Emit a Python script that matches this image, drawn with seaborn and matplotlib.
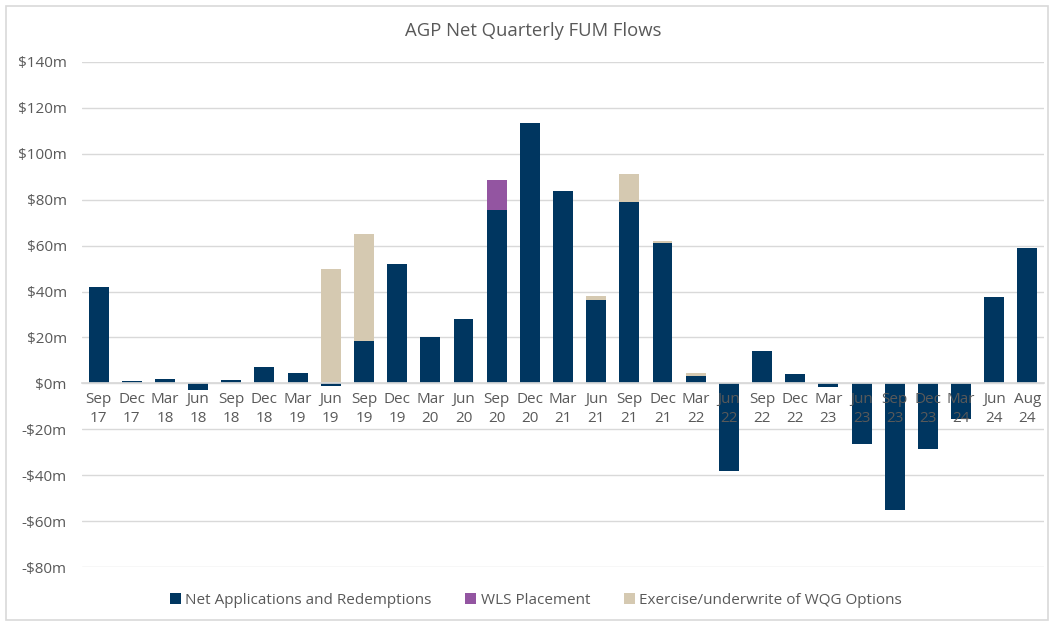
import numpy as np
import pandas as pd
import matplotlib
matplotlib.use("Agg")
import matplotlib.pyplot as plt
from matplotlib.ticker import FuncFormatter, MultipleLocator
from matplotlib.patches import Rectangle
import seaborn as sns

quarters = ["Sep\n17", "Dec\n17", "Mar\n18", "Jun\n18", "Sep\n18", "Dec\n18", "Mar\n19",
            "Jun\n19", "Sep\n19", "Dec\n19", "Mar\n20", "Jun\n20", "Sep\n20", "Dec\n20",
            "Mar\n21", "Jun\n21", "Sep\n21", "Dec\n21", "Mar\n22", "Jun\n22", "Sep\n22",
            "Dec\n22", "Mar\n23", "Jun\n23", "Sep\n23", "Dec\n23", "Mar\n24", "Jun\n24",
            "Aug\n24"]
net_flows = [42, 1, 2, -3, 1.5, 7, 4.5, -1, 18.5, 52, 20, 28, 75.5, 113.5,
             84, 36.5, 79, 61, 3, -38, 14, 4, -1.5, -26.5, -55, -28.5, -15.5, 37.5, 59]
wls_placement = [0, 0, 0, 0, 0, 0, 0, 0, 0, 0, 0, 0, 13, 0,
                 0, 0, 0, 0, 0, 0, 0, 0, 0, 0, 0, 0, 0, 0, 0]
wqg_options = [0, 0, 0, 0, 0, 0, 0, 50, 46.5, 0, 0, 0, 0, 0,
               0, 1.5, 12, 1, 1.5, 0, 0, 0, 0, 0, 0, 0, 0, 0, 0]

NAVY = "#003660"
PURPLE = "#9355A1"
BEIGE = "#D5C9B1"
GREY = "#595959"

sns.set_theme(style="white")
plt.rcParams["font.family"] = ["Open Sans", "DejaVu Sans"]

df = pd.DataFrame({"quarter": quarters, "net": net_flows,
                   "wls": wls_placement, "wqg": wqg_options})
pos = df["net"].clip(lower=0)
df["wls_top"] = pos + df["wls"]
df["wqg_top"] = df["wls_top"] + df["wqg"]

fig = plt.figure(figsize=(10.52, 6.24), dpi=100)
ax = fig.add_axes([82 / 1052, 1 - 567 / 624, (1044 - 82) / 1052, (567 - 62) / 624])

# draw layers back to front so they look stacked
sns.barplot(data=df, x="quarter", y="wqg_top", color=BEIGE, width=0.6, linewidth=0,
            saturation=1, ax=ax, label="Exercise/underwrite of WQG Options", zorder=1)
sns.barplot(data=df, x="quarter", y="wls_top", color=PURPLE, width=0.6, linewidth=0,
            saturation=1, ax=ax, label="WLS Placement", zorder=1)
sns.barplot(data=df, x="quarter", y="net", color=NAVY, width=0.6, linewidth=0,
            saturation=1, ax=ax, label="Net Applications and Redemptions", zorder=1)

ax.set_ylim(-80, 140)
ax.yaxis.set_major_locator(MultipleLocator(20))
ax.yaxis.set_major_formatter(FuncFormatter(
    lambda v, p: f"-${abs(v):.0f}m" if v < 0 else f"${v:.0f}m"))

ax.grid(False)
for yv in np.arange(-80, 141, 20):
    ax.axhline(yv, color="#d9d9d9", lw=1, zorder=0)

for s in ["top", "right", "left"]:
    ax.spines[s].set_visible(False)
ax.spines["bottom"].set_position(("data", 0))
ax.spines["bottom"].set_color("#d9d9d9")
ax.set_axisbelow(False)

ax.tick_params(axis="y", length=0, pad=11, labelsize=11, labelcolor=GREY)
ax.tick_params(axis="x", length=0, pad=6, labelsize=11, labelcolor=GREY)
for t in ax.get_xticklabels():
    t.set_linespacing(1.35)
ax.set_xlabel("")
ax.set_ylabel("")

fig.text(533 / 1052, 1 - 31 / 624, "AGP Net Quarterly FUM Flows", ha="center", va="center",
         fontsize=13.3, color=GREY)

handles, labels = ax.get_legend_handles_labels()
order = [2, 1, 0]
ax.legend([handles[i] for i in order], [labels[i] for i in order],
          loc="center", bbox_to_anchor=(536 / 1052, 1 - 600 / 624), bbox_transform=fig.transFigure,
          ncol=3, frameon=False, fontsize=11, labelcolor=GREY,
          handlelength=0.7, handleheight=0.7, handletextpad=0.3, columnspacing=2.2)

fig.patches.append(Rectangle((6 / 1052, 4 / 624), 1042 / 1052, 614 / 624,
                             transform=fig.transFigure, fill=False,
                             edgecolor="#d9d9d9", lw=1.2))

fig.savefig("out.png", dpi=100)
